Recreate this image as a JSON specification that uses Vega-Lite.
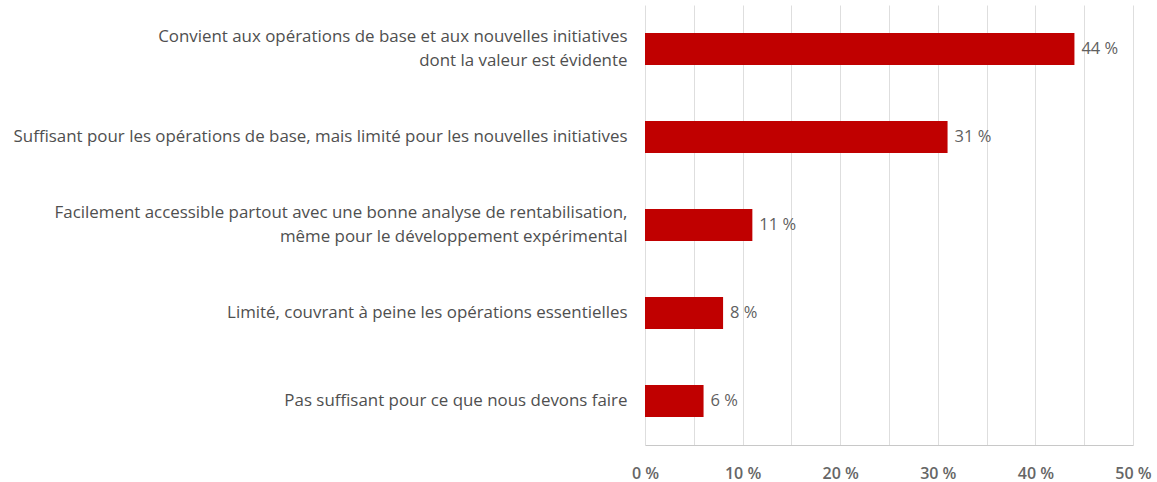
{
  "$schema": "https://vega.github.io/schema/vega-lite/v6.json",
  "autosize": {"type": "none"},
  "width": 488,
  "height": 440,
  "padding": {"left": 645, "top": 5, "right": 24, "bottom": 37},
  "background": "white",
  "config": {
    "view": {"stroke": null},
    "font": "Open Sans"
  },
  "data": {
    "values": [
      {"category": "Convient aux opérations de base et aux nouvelles initiatives|dont la valeur est évidente", "value": 44, "label": "44 %"},
      {"category": "Suffisant pour les opérations de base, mais limité pour les nouvelles initiatives", "value": 31, "label": "31 %"},
      {"category": "Facilement accessible partout avec une bonne analyse de rentabilisation,|même pour le développement expérimental", "value": 11, "label": "11 %"},
      {"category": "Limité, couvrant à peine les opérations essentielles", "value": 8, "label": "8 %"},
      {"category": "Pas suffisant pour ce que nous devons faire", "value": 6, "label": "6 %"}
    ]
  },
  "encoding": {
    "y": {
      "field": "category",
      "type": "nominal",
      "sort": null,
      "scale": {"paddingInner": 0.636, "paddingOuter": 0.318},
      "axis": {
        "title": null,
        "domain": false,
        "ticks": false,
        "labelExpr": "split(datum.label, '|')",
        "labelFontSize": 16.9,
        "labelColor": "#4f4f4f",
        "labelPadding": 18,
        "labelLimit": 0,
        "labelLineHeight": 24,
        "labelAlign": "right",
        "labelOffset": {"condition": {"test": "indexof(datum.value, '|') >= 0", "value": -12}, "value": 0}
      }
    }
  },
  "layer": [
    {
      "mark": {"type": "bar", "color": "#c00000"},
      "encoding": {
        "x": {
          "field": "value",
          "type": "quantitative",
          "scale": {"domain": [0, 50], "nice": false},
          "axis": {
            "title": null,
            "values": [0, 5, 10, 15, 20, 25, 30, 35, 40, 45, 50],
            "labelExpr": "datum.value % 10 === 0 ? datum.value + ' %' : ''",
            "grid": true,
            "gridColor": "#dedede",
            "gridWidth": 1,
            "domainColor": "#c8c8c8",
            "ticks": false,
            "labelFontSize": 16,
            "labelFontWeight": 600,
            "labelColor": "#666666",
            "labelPadding": 20,
            "labelFlush": false
          }
        }
      }
    },
    {
      "mark": {"type": "text", "align": "left", "baseline": "middle", "dx": 7, "fontSize": 16.5, "color": "#5f5f5f"},
      "encoding": {
        "x": {"field": "value", "type": "quantitative"},
        "text": {"field": "label"}
      }
    }
  ]
}
